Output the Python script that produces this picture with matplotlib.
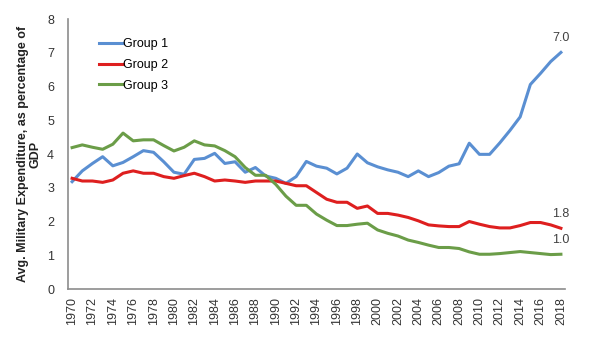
import matplotlib
matplotlib.use('Agg')
import matplotlib.pyplot as plt

plt.rcParams['font.family'] = ['Liberation Sans', 'DejaVu Sans']

years = list(range(1970, 2019))

group1 = [3.18, 3.50, 3.72, 3.92, 3.65, 3.75, 3.92, 4.10, 4.05, 3.77,
          3.46, 3.40, 3.84, 3.87, 4.02, 3.72, 3.77, 3.46, 3.60, 3.35,
          3.28, 3.13, 3.33, 3.78, 3.64, 3.58, 3.41, 3.58, 4.00, 3.74,
          3.62, 3.53, 3.46, 3.33, 3.50, 3.33, 3.45, 3.64, 3.71, 4.32,
          3.99, 3.99, 4.33, 4.70, 5.10, 6.06, 6.39, 6.74, 7.01]

group2 = [3.28, 3.20, 3.20, 3.16, 3.23, 3.43, 3.50, 3.43, 3.43, 3.33,
          3.28, 3.36, 3.43, 3.33, 3.20, 3.23, 3.20, 3.16, 3.20, 3.20,
          3.20, 3.13, 3.06, 3.06, 2.86, 2.66, 2.57, 2.57, 2.39, 2.46,
          2.24, 2.24, 2.19, 2.12, 2.02, 1.90, 1.87, 1.85, 1.85, 2.00,
          1.92, 1.85, 1.81, 1.81, 1.88, 1.97, 1.97, 1.90, 1.80]

group3 = [4.19, 4.27, 4.20, 4.14, 4.29, 4.62, 4.39, 4.42, 4.42, 4.25,
          4.09, 4.20, 4.39, 4.27, 4.24, 4.10, 3.92, 3.60, 3.37, 3.37,
          3.10, 2.75, 2.48, 2.48, 2.22, 2.04, 1.88, 1.88, 1.92, 1.95,
          1.75, 1.65, 1.57, 1.45, 1.38, 1.30, 1.23, 1.23, 1.20, 1.10,
          1.03, 1.03, 1.05, 1.08, 1.11, 1.08, 1.05, 1.02, 1.03]

colors = ['#5a8fd2', '#de1f1f', '#6b9d48']
labels = ['Group 1', 'Group 2', 'Group 3']

fig = plt.figure(figsize=(5.9, 3.37), dpi=100)
ax = fig.add_axes([0.1153, 0.1424, 0.8423, 0.8012])

for vals, c, lab in zip([group1, group2, group3], colors, labels):
    ax.plot(years, vals, color=c, linewidth=2.2, label=lab, solid_joinstyle='round')
    ax.annotate(f'{vals[-1]:.1f}', (years[-1], vals[-1]), xytext=(0, 6),
                textcoords='offset points', ha='center', va='bottom',
                fontsize=9, color='#404040')

ax.set_xlim(1969.6, 2018.4)
ax.set_ylim(0, 8)
ax.set_xticks(years[::2])
ax.set_xticklabels([str(y) for y in years[::2]], rotation=90)
ax.set_yticks(range(0, 9))
ax.tick_params(axis='both', length=0, labelsize=9, colors='#333333')
ax.tick_params(axis='y', pad=10)
ax.tick_params(axis='x', pad=6)

for s in ['top', 'right']:
    ax.spines[s].set_visible(False)
for s in ['left', 'bottom']:
    ax.spines[s].set_color('#8c8c8c')
    ax.spines[s].set_linewidth(1.2)

ax.set_ylabel('Avg. Military Expenditure, as percentage of\nGDP',
              fontsize=9, fontweight='bold', labelpad=4, linespacing=1.05,
              color='#222222')

ax.legend(loc='upper left', bbox_to_anchor=(0.04, 0.97), frameon=False,
          fontsize=9, handlelength=1.9, handletextpad=0.0, labelspacing=0.7)

fig.savefig('out.png', dpi=100)
